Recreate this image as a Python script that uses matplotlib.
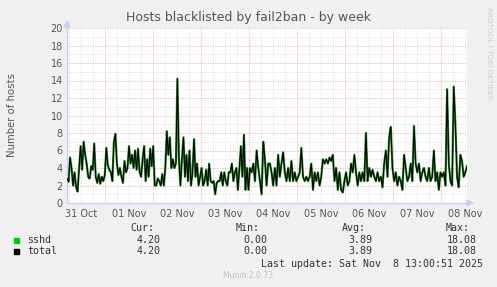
import matplotlib
matplotlib.use('Agg')
import matplotlib.pyplot as plt
import matplotlib.dates as mdates
import pandas as pd
from matplotlib.patches import Rectangle

# values, two stretches of the week
part1 = [2.8, 2.4, 5.2, 4.0, 2.0, 3.5, 1.8, 1.3, 4.0, 6.5,
         3.8, 7.0, 5.5, 4.5, 3.0, 2.8, 4.2, 3.8, 6.8, 3.0,
         2.3, 3.3, 2.2, 3.0, 2.5, 3.2, 6.3, 4.3, 3.8, 3.5,
         2.5, 7.0, 7.9, 4.5, 3.2, 4.0, 3.0, 2.3, 4.8, 3.5,
         4.0, 6.5, 4.5, 5.5, 4.0, 6.0, 3.8, 6.2, 3.5, 3.0,
         5.0, 6.5, 2.5, 5.0, 3.0, 6.2, 4.2, 6.5, 2.0, 2.0,
         2.8, 2.5, 2.0, 3.3, 2.0, 4.0, 8.2, 5.5, 7.5, 4.0,
         5.0, 4.0, 4.5, 14.2, 5.0, 2.0, 5.0, 7.5, 3.0, 5.5,
         2.5, 6.0, 2.0, 3.5, 7.3, 3.0, 4.5, 2.0, 3.0, 4.0,
         2.0, 2.5, 3.8, 2.0, 4.5, 2.5, 2.3, 2.5, 1.0, 2.3,
         2.5, 2.5, 3.5, 2.0, 3.5, 2.5, 2.0, 3.5, 3.5, 4.5,
         2.5, 3.5, 4.0, 1.5, 4.0, 6.5, 3.0, 7.8, 1.5, 4.0,
         1.5, 4.0]
part2 = [3.5, 4.5, 2.5, 6.0, 4.0, 2.5, 1.0, 7.0, 5.0, 2.0,
         4.5, 4.5, 3.5, 2.0, 4.0, 2.0, 5.5, 3.0, 4.5, 5.8,
         3.5, 2.5, 4.0, 2.5, 4.8, 2.5, 3.5, 2.5, 3.0, 3.5,
         6.3, 3.0, 2.5, 3.0, 2.5, 3.0, 4.5, 1.5, 3.5, 2.5,
         3.5, 2.0, 3.0, 5.0, 4.5, 5.0, 4.5, 5.2, 4.8, 5.5,
         2.5, 4.0, 1.5, 3.5, 1.5, 1.2, 2.5, 3.5, 2.0, 2.5,
         4.5, 3.5, 5.5, 3.5, 2.0, 3.5, 2.5, 3.5, 2.5, 8.0,
         2.5, 4.0, 3.0, 3.8, 3.0, 2.5, 3.5, 2.5, 3.0, 1.8,
         4.5, 6.0, 3.0, 7.5, 8.7, 4.0, 2.5, 3.5, 2.0, 3.0,
         2.5, 1.5, 5.5, 4.0, 2.5, 3.0, 4.5, 2.5, 8.8, 4.5,
         3.5, 4.5, 2.5, 3.5, 4.0, 3.0, 2.5, 4.0, 2.5, 3.0,
         6.0, 2.5, 3.5, 1.5, 3.5, 3.0, 3.5, 2.0, 13.0, 4.5,
         2.5, 2.0, 13.3, 9.0, 3.0, 1.8, 5.5, 4.8, 3.0, 3.5,
         4.2]

times1 = pd.date_range('2025-10-31 05:00', '2025-11-04 00:30', periods=len(part1))
times2 = pd.date_range('2025-11-04 01:20', '2025-11-08 13:00', periods=len(part2))
times = times1.append(times2)
sshd = part1 + part2
total = part1 + part2

legend_names = ['sshd', 'total']
legend_colors = ['#00cc00', '#000000']
cur = [4.20, 4.20]
vmin = [0.00, 0.00]
avg = [3.89, 3.89]
vmax = [18.08, 18.08]

W, H = 497, 287
def fx(x):
    return x / W
def fy(y):
    return 1 - y / H

fig = plt.figure(figsize=(W / 100, H / 100), dpi=100, facecolor='#f0f0f0')
ax = fig.add_axes([fx(67), fy(203), 400 / W, 175 / H])
ax.set_facecolor('white')

t0 = pd.Timestamp('2025-10-31 05:00')
t1 = pd.Timestamp('2025-11-08 13:00')
ax.set_xlim(t0, t1)
ax.set_ylim(0, 20)

# grid: red at midnight / even values, grey otherwise
for t in pd.date_range('2025-10-31 06:00', '2025-11-08 12:00', freq='6h'):
    c = '#eeaaaa' if t.hour == 0 else '#dedede'
    ax.axvline(t, color=c, lw=0.6, ls=(0, (1.5, 1.5)), zorder=0)
for v in range(1, 21):
    c = '#eeaaaa' if v % 2 == 0 else '#dedede'
    ax.axhline(v, color=c, lw=0.6, ls=(0, (1.5, 1.5)), zorder=0)

ax.plot(times, sshd, color='#2a9a2a', lw=1.6, zorder=2)
ax.plot(times, total, color='black', lw=0.8, zorder=3)

ax.set_yticks(range(0, 21, 2))
noons = pd.date_range('2025-10-31 12:00', '2025-11-08 12:00', freq='D')
ax.set_xticks(noons)
ax.xaxis.set_major_formatter(mdates.DateFormatter('%d %b'))
ax.tick_params(axis='both', labelsize=7, colors='#555555', length=0, pad=3)
ax.tick_params(axis='x', pad=4)

for s in ['top', 'right']:
    ax.spines[s].set_visible(False)
for s in ['left', 'bottom']:
    ax.spines[s].set_color('#c8d0f8')
    ax.spines[s].set_linewidth(1)

# axis arrows
fig.patches.append(plt.Polygon([(fx(64), fy(27)), (fx(70), fy(27)), (fx(67), fy(21))],
                               closed=True, transform=fig.transFigure, color='#c8d0f8'))
fig.patches.append(plt.Polygon([(fx(467), fy(200)), (fx(467), fy(206)), (fx(473), fy(203))],
                               closed=True, transform=fig.transFigure, color='#c8d0f8'))

fig.text(fx(248), fy(18), 'Hosts blacklisted by fail2ban - by week', ha='center', va='center',
         fontsize=9, color='#555555')
fig.text(fx(12), fy(115), 'Number of hosts', rotation=90, ha='center', va='center',
         fontsize=7.3, color='#555555')
fig.text(fx(488.5), fy(53), 'RRDTOOL / TOBI OETIKER', rotation=-90, ha='center', va='center',
         fontsize=5.2, color='#cccccc')

# legend block
mono = 'DejaVu Sans Mono'
lc = '#333333'
lfs = 7.2
for txt, xr in zip(['Cur:', 'Min:', 'Avg:', 'Max:'], [154, 260, 366, 470]):
    fig.text(fx(xr), fy(228), txt, ha='right', va='center', family=mono, fontsize=lfs, color=lc)
for i, name in enumerate(legend_names):
    yy = 240 + i * 11.5
    fig.patches.append(Rectangle((fx(14), fy(yy + 2.5)), 5 / W, 5 / H, transform=fig.transFigure,
                                 color=legend_colors[i]))
    fig.text(fx(27), fy(yy), name, ha='left', va='center', family=mono, fontsize=lfs, color=lc)
    for val, xr in zip([cur[i], vmin[i], avg[i], vmax[i]], [161, 267, 372, 477]):
        fig.text(fx(xr), fy(yy), f'{val:.2f}', ha='right', va='center', family=mono,
                 fontsize=lfs, color=lc)
fig.text(fx(483), fy(264), 'Last update: Sat Nov  8 13:00:51 2025', ha='right', va='center',
         family=mono, fontsize=lfs, color=lc)
fig.text(fx(248), fy(276), 'Munin 2.0.73', ha='center', va='center', fontsize=5.5, color='#c0c0c0')

fig.savefig('out.png', dpi=100, facecolor=fig.get_facecolor())
